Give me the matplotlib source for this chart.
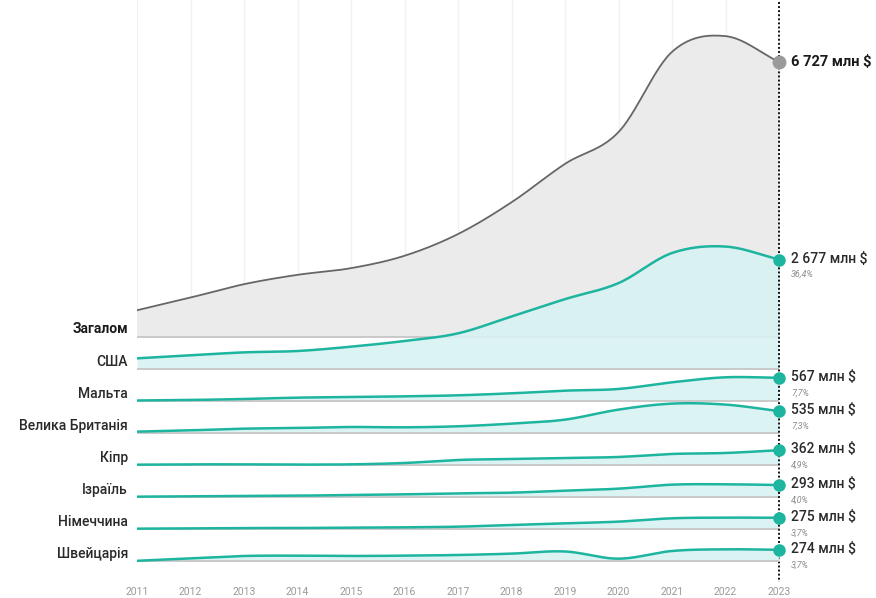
"""Ridgeline chart: total and top-country values, 2011-2023 (млн $)."""

import numpy as np
import matplotlib.pyplot as plt

plt.rcParams["font.family"] = ["Roboto", "DejaVu Sans"]

YEARS = list(range(2011, 2024))
TOTAL_NAME = "Загалом"
TOTAL_VALUES = [654, 965, 1292, 1521, 1684, 1987, 2518, 3295, 4235, 5012, 6975, 7360, 6727]

COUNTRIES = ["США", "Мальта", "Велика Британія", "Кіпр", "Ізраїль", "Німеччина", "Швейцарія"]
USA = [261, 334, 407, 440, 546, 685, 872, 1284, 1709, 2101, 2837, 2995, 2677]
MALTA = [12, 25, 49, 82, 98, 114, 139, 188, 253, 294, 458, 580, 567]
UK = [33, 65, 106, 123, 147, 139, 164, 229, 327, 572, 719, 695, 535]
CYPRUS = [8, 16, 16, 10, 16, 49, 123, 147, 172, 196, 270, 294, 362]
ISRAEL = [8, 16, 25, 33, 49, 65, 90, 106, 155, 204, 302, 311, 293]
GERMANY = [8, 16, 25, 25, 33, 41, 57, 98, 139, 180, 262, 278, 275]
SWITZERLAND = [5, 65, 123, 131, 123, 131, 147, 180, 233, 57, 245, 286, 274]
COUNTRY_VALUES = [USA, MALTA, UK, CYPRUS, ISRAEL, GERMANY, SWITZERLAND]
SHARE_LABELS = ["36,4%", "7,7%", "7,3%", "4,9%", "4,0%", "3,7%", "3,7%"]

TEAL = "#1db59f"
TEAL_FILL = "#d9f2f2"
GREY_LINE = "#666666"
GREY_FILL = "#ebebeb"
BASE_LINE = "#c9c9c9"
TEXT = "#2a2a2a"

PX_PER_UNIT = (337 - 62) / 6727  # vertical pixels per million $
ROW_STEP = 32 / PX_PER_UNIT       # spacing between ridge baselines


def smooth(xs, ys, n=30):
    """Catmull-Rom style cubic Hermite curve through the points."""
    x = np.asarray(xs, float)
    y = np.asarray(ys, float)
    m = np.empty_like(y)
    m[1:-1] = (y[2:] - y[:-2]) / 2
    m[0] = y[1] - y[0]
    m[-1] = y[-1] - y[-2]
    out_x, out_y = [], []
    t = np.linspace(0, 1, n, endpoint=False)
    h00 = 2 * t**3 - 3 * t**2 + 1
    h10 = t**3 - 2 * t**2 + t
    h01 = -2 * t**3 + 3 * t**2
    h11 = t**3 - t**2
    for i in range(len(x) - 1):
        out_x.append(x[i] + t * (x[i + 1] - x[i]))
        out_y.append(h00 * y[i] + h10 * m[i] + h01 * y[i + 1] + h11 * m[i + 1])
    out_x.append([x[-1]])
    out_y.append([y[-1]])
    return np.concatenate(out_x), np.concatenate(out_y)


def fmt_value(v):
    return f"{v:,}".replace(",", " ") + " млн $"


def main():
    fig = plt.figure(figsize=(8.76, 5.98), dpi=100)
    ax = fig.add_axes([137 / 876, 0, (779 - 137) / 876, 1])
    ax.set_xlim(YEARS[0], YEARS[-1])
    ax.set_ylim(-(598 - 337) / PX_PER_UNIT, 337 / PX_PER_UNIT)
    ax.axis("off")

    def py(pixel_y):
        return (337 - pixel_y) / PX_PER_UNIT

    # faint vertical grid in the upper area
    for year in YEARS[:-1]:
        ax.plot([year, year], [0, py(0)], color="#f1f1f1", lw=1, zorder=0)

    # total ridge
    sx, sy = smooth(YEARS, TOTAL_VALUES)
    ax.fill_between(sx, 0, sy, color=GREY_FILL, lw=0, zorder=1)
    ax.plot(sx, sy, color=GREY_LINE, lw=1.3, zorder=2)
    ax.plot([YEARS[0], YEARS[-1]], [0, 0], color=BASE_LINE, lw=1.4, zorder=2.5)
    ax.plot(YEARS[-1], TOTAL_VALUES[-1], "o", color="#9a9a9a", ms=9, clip_on=False, zorder=20)
    ax.annotate(TOTAL_NAME, xy=(YEARS[0], 0), xytext=(-9, 8), textcoords="offset pixels",
                ha="right", va="center", fontsize=10, fontweight="bold", color="#1a1a1a")
    ax.annotate(fmt_value(TOTAL_VALUES[-1]), xy=(YEARS[-1], TOTAL_VALUES[-1]), xytext=(12, 0),
                textcoords="offset pixels", ha="left", va="center", fontsize=10.5,
                fontweight="bold", color="#1a1a1a", annotation_clip=False)

    # country ridges
    for k, (name, values, share) in enumerate(zip(COUNTRIES, COUNTRY_VALUES, SHARE_LABELS), start=1):
        base = -k * ROW_STEP
        z = 2 + k * 2
        sx, sy = smooth(YEARS, values)
        ax.fill_between(sx, base, base + sy, color=TEAL_FILL, alpha=0.9, lw=0, zorder=z)
        ax.plot([YEARS[0], YEARS[-1]], [base, base], color=BASE_LINE, lw=1.4, zorder=z + 0.5)
        ax.plot(sx, base + sy, color=TEAL, lw=1.8, zorder=z + 1)
        ax.plot(YEARS[-1], base + values[-1], "o", color=TEAL, ms=8, clip_on=False, zorder=20)
        ax.annotate(name, xy=(YEARS[0], base), xytext=(-9, 7), textcoords="offset pixels",
                    ha="right", va="center", fontsize=10, fontweight="medium", color=TEXT)
        ax.annotate(fmt_value(values[-1]), xy=(YEARS[-1], base + values[-1]), xytext=(12, 1),
                    textcoords="offset pixels", ha="left", va="center", fontsize=10,
                    fontweight="medium", color=TEXT, annotation_clip=False)
        ax.annotate(share, xy=(YEARS[-1], base + values[-1]), xytext=(12, -15),
                    textcoords="offset pixels", ha="left", va="center", fontsize=6.5,
                    style="italic", color="#8c8c8c", annotation_clip=False)

    # dotted marker line at the last year
    ax.plot([YEARS[-1], YEARS[-1]], [py(2), py(582)], color="#111111", lw=1.4,
            ls=(0, (1, 1.1)), zorder=15, clip_on=False)

    # year labels
    for year in YEARS:
        ax.text(year, py(592), str(year), ha="center", va="center", fontsize=7.5,
                color="#999999")

    fig.savefig("out.png", dpi=100)
    plt.close(fig)


if __name__ == "__main__":
    main()
